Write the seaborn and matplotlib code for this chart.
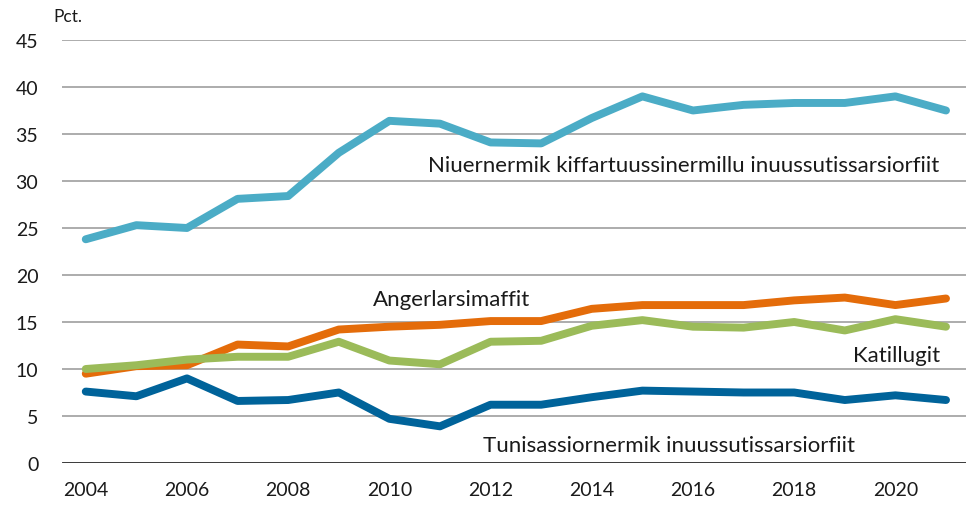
import matplotlib
matplotlib.use("Agg")
import matplotlib.pyplot as plt
import seaborn as sns
import pandas as pd

# data
years = list(range(2004, 2022))
niuernermik = [23.8, 25.3, 25.0, 28.1, 28.4, 33.0, 36.4, 36.1, 34.1, 34.0,
               36.7, 39.0, 37.5, 38.1, 38.3, 38.3, 39.0, 37.5]
angerlarsimaffit = [9.5, 10.3, 10.4, 12.6, 12.4, 14.2, 14.5, 14.7, 15.1, 15.1,
                    16.4, 16.8, 16.8, 16.8, 17.3, 17.6, 16.8, 17.5]
katillugit = [10.0, 10.4, 11.0, 11.3, 11.3, 12.9, 10.9, 10.5, 12.9, 13.0,
              14.6, 15.2, 14.5, 14.4, 15.0, 14.1, 15.3, 14.5]
tunisassiornermik = [7.6, 7.1, 9.0, 6.6, 6.7, 7.5, 4.7, 3.9, 6.2, 6.2,
                     7.0, 7.7, 7.6, 7.5, 7.5, 6.7, 7.2, 6.7]

series_names = [
    "Niuernermik kiffartuussinermillu inuussutissarsiorfiit",
    "Angerlarsimaffit",
    "Katillugit",
    "Tunisassiornermik inuussutissarsiorfiit",
]
series_values = [niuernermik, angerlarsimaffit, katillugit, tunisassiornermik]
colors = ["#4BACC6", "#E46C0A", "#9BBB59", "#00639A"]

# long format for seaborn
rows = []
for name, vals in zip(series_names, series_values):
    for y, v in zip(years, vals):
        rows.append({"year": y, "value": v, "series": name})
df = pd.DataFrame(rows)

sns.set_style("white")
plt.rcParams["font.family"] = ["Lato", "DejaVu Sans"]

fig = plt.figure(figsize=(9.76, 5.06), dpi=100)
ax = fig.add_axes([0.0635, 0.083, 0.9265, 0.836])

# gridlines
for g in range(5, 50, 5):
    ax.axhline(g, color="#A6A6A6", lw=1.3, zorder=0)
ax.axhline(0, color="black", lw=1.8, zorder=1)

sns.lineplot(data=df, x="year", y="value", hue="series",
             hue_order=series_names, palette=colors, lw=5.7,
             legend=False, ax=ax, zorder=3)
for line in ax.get_lines()[-4:]:
    line.set_solid_capstyle("round")
    line.set_solid_joinstyle("round")

ax.set_xlim(2003.53, 2021.4)
ax.set_ylim(0, 45)
ax.set_xticks(range(2004, 2022, 2))
ax.set_yticks(range(0, 50, 5))
ax.tick_params(axis="both", length=0, labelsize=14, labelcolor="#1a1a1a")
ax.tick_params(axis="y", pad=17)
ax.tick_params(axis="x", pad=13)
ax.set_xlabel("")
ax.set_ylabel("")
for s in ax.spines.values():
    s.set_visible(False)

# series labels
fs = 16
ax.text(2010.76, 31.7, series_names[0], fontsize=fs, va="center", ha="left", color="#1a1a1a")
ax.text(2009.67, 17.4, series_names[1], fontsize=fs, va="center", ha="left", color="#1a1a1a")
ax.text(2019.16, 11.5, series_names[2], fontsize=fs, va="center", ha="left", color="#1a1a1a")
ax.text(2011.85, 1.9, series_names[3], fontsize=fs, va="center", ha="left", color="#1a1a1a")

fig.text(53 / 976, 1 - 17 / 506, "Pct.", fontsize=12.5, va="center", ha="left", color="#1a1a1a")

fig.savefig("out.png", dpi=100)
